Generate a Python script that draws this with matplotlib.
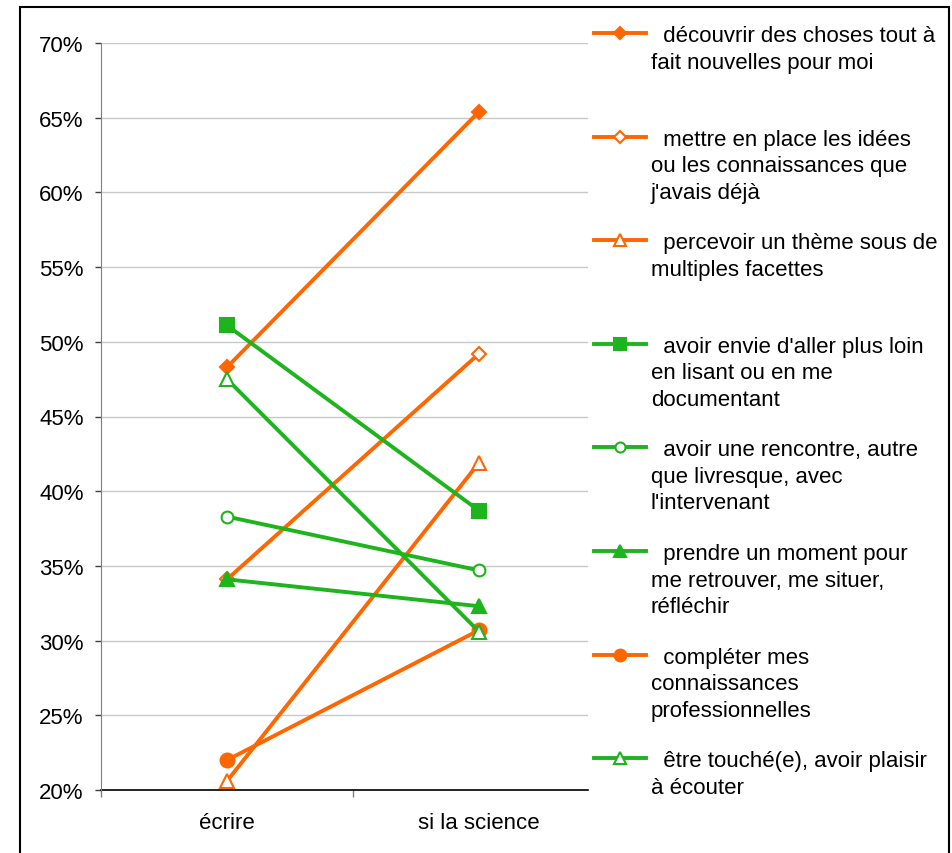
import matplotlib
matplotlib.use("Agg")
import matplotlib.pyplot as plt
from matplotlib.lines import Line2D
from matplotlib.patches import Rectangle

plt.rcParams['font.family'] = ['Liberation Sans', 'DejaVu Sans']

ORANGE = '#FF6600'
VERT = '#1EB41E'
FS = 16

categories = ['écrire', 'si la science']

labels = [
    ["découvrir des choses tout à", "fait nouvelles pour moi"],
    ["mettre en place les idées", "ou les connaissances que", "j'avais déjà"],
    ["percevoir un thème sous de", "multiples facettes"],
    ["avoir envie d'aller plus loin", "en lisant ou en me", "documentant"],
    ["avoir une rencontre, autre", "que livresque, avec", "l'intervenant"],
    ["prendre un moment pour", "me retrouver, me situer,", "réfléchir"],
    ["compléter mes", "connaissances", "professionnelles"],
    ["être touché(e), avoir plaisir", "à écouter"],
]

# pourcentages (écrire, si la science)
decouvrir = [48.3, 65.4]
mettre_en_place = [34.1, 49.2]
percevoir = [20.6, 41.9]
avoir_envie = [51.1, 38.7]
rencontre = [38.3, 34.7]
prendre_moment = [34.1, 32.3]
completer = [22.0, 30.7]
etre_touche = [47.5, 30.6]

series = [decouvrir, mettre_en_place, percevoir, avoir_envie,
          rencontre, prendre_moment, completer, etre_touche]

# couleur, marqueur, taille, plein ou vide
styles = [
    (ORANGE, 'D', 7.5, True),
    (ORANGE, 'D', 7.0, False),
    (ORANGE, '^', 10.5, False),
    (VERT, 's', 10.5, True),
    (VERT, 'o', 8.5, False),
    (VERT, '^', 10.5, True),
    (ORANGE, 'o', 10.0, True),
    (VERT, '^', 10.5, False),
]

W, H = 953, 854
fig = plt.figure(figsize=(W / 100, H / 100), dpi=100)
# la zone de tracé est coupée à droite par la légende
ax = fig.add_axes([101 / W, 1 - 791 / H, (588 - 101) / W, (791 - 44) / H])

x = list(range(len(categories)))
for vals, (col, mk, ms, plein) in zip(series, styles):
    ax.plot(x, vals, color=col, lw=2.8, marker=mk, markersize=ms,
            markerfacecolor=col if plein else 'white',
            markeredgecolor=col, markeredgewidth=1.5, clip_on=False)

ax.set_xlim(-0.5, -0.5 + (588 - 101) / 252)
ax.set_ylim(20, 70)
ax.set_yticks(range(20, 71, 5))
ax.set_yticklabels([f'{v}%' for v in range(20, 71, 5)])
ax.set_xticks(x)
ax.set_xticklabels(categories)
ax.set_xticks([-0.5, 0.5], minor=True)
ax.tick_params(axis='x', which='major', length=0, pad=16, labelsize=FS)
ax.tick_params(axis='x', which='minor', length=5, width=1, color='#808080')
ax.tick_params(axis='y', length=4.5, width=1, color='#404040', pad=8, labelsize=FS)

ax.grid(axis='y', color='#C8C8C8', lw=1)
ax.set_axisbelow(True)
for s in ['top', 'right']:
    ax.spines[s].set_visible(False)
ax.spines['left'].set_color('#808080')
ax.spines['bottom'].set_color('black')
ax.spines['bottom'].set_linewidth(1.2)
ax.spines['bottom'].set_zorder(1)

# légende dessinée à droite
def fy(py):
    return 1 - py / H

for i, ((col, mk, ms, plein), lines) in enumerate(zip(styles, labels)):
    y0 = 34 + 103.6 * i
    fig.add_artist(Line2D([594 / W, 646 / W], [fy(y0)] * 2, color=col, lw=2.8,
                          transform=fig.transFigure))
    fig.add_artist(Line2D([620 / W], [fy(y0)], color=col, marker=mk,
                          markersize=ms * 0.85,
                          markerfacecolor=col if plein else 'white',
                          markeredgecolor=col, markeredgewidth=1.5,
                          transform=fig.transFigure))
    for k, txt in enumerate(lines):
        t = '  ' + txt if k == 0 else txt
        fig.text(651 / W, fy(y0 + 8 + 26.5 * k), t, fontsize=FS,
                 ha='left', va='baseline', color='black')

# cadre
fig.add_artist(Rectangle((20 / W, -0.05), (949 - 20) / W, fy(7.5) + 0.05,
                         fill=False, edgecolor='black', lw=1.5,
                         transform=fig.transFigure))

fig.savefig('out.png', dpi=100)
